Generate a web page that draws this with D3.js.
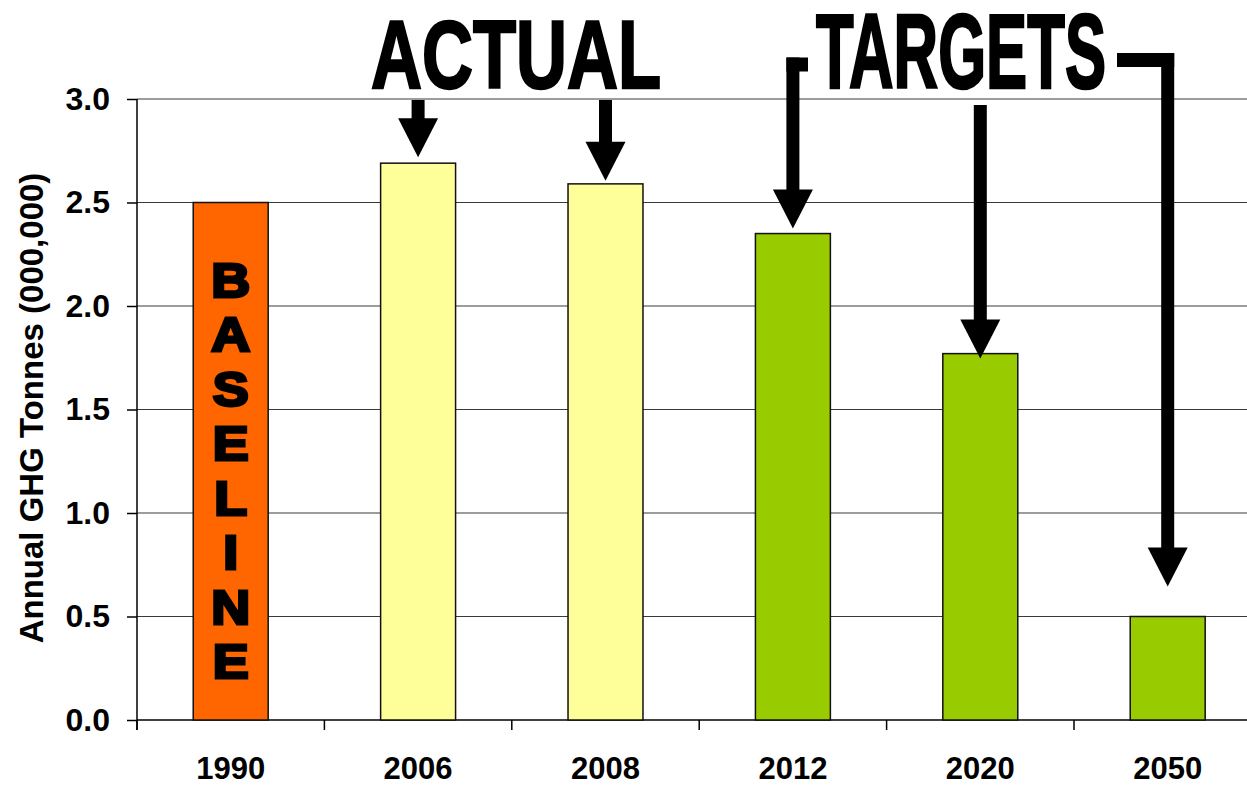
<html>
<head>
  <style>
    body { margin: 0; padding: 0; background: white; }
    svg { display: block; }
    text { font-family: "Liberation Sans", Arial, sans-serif; }
  </style>
</head>
<body>
  <div id="chart"></div>
  <script src="https://cdnjs.cloudflare.com/ajax/libs/d3/7.8.5/d3.min.js"></script>
  <script>
    // chart data
    var years = ["1990", "2006", "2008", "2012", "2020", "2050"];
    var tonnes = [2.5, 2.69, 2.59, 2.35, 1.77, 0.5];
    var kinds = ["baseline", "actual", "actual", "target", "target", "target"];
    var yTicks = [0, 0.5, 1.0, 1.5, 2.0, 2.5, 3.0];
    var yLabel = "Annual GHG Tonnes (000,000)";
    var baselineWord = "BASELINE";

    var colors = { baseline: "#ff6600", actual: "#ffff99", target: "#99cc00" };

    var width = 1247, height = 786;
    var plotLeft = 137, plotTop = 99, plotH = 621, step = 187.4;

    var svg = d3.select("#chart").append("svg")
      .attr("width", width)
      .attr("height", height);

    var x = d3.scaleBand()
      .domain(years)
      .range([plotLeft, plotLeft + step * years.length])
      .paddingInner(0.6)
      .paddingOuter(0.3);

    var y = d3.scaleLinear()
      .domain([0, 3])
      .range([plotTop + plotH, plotTop]);

    // gridlines
    svg.append("g").selectAll("line")
      .data(yTicks.filter(function(d) { return d > 0; }))
      .enter().append("line")
      .attr("x1", plotLeft).attr("x2", width)
      .attr("y1", function(d) { return y(d); })
      .attr("y2", function(d) { return y(d); })
      .attr("stroke", "#3a3a3a")
      .attr("stroke-width", 1.2);

    // y axis
    var yAxis = svg.append("g")
      .attr("transform", "translate(" + plotLeft + ",0)")
      .call(d3.axisLeft(y).tickValues(yTicks).tickFormat(d3.format(".1f")).tickSize(10).tickSizeOuter(0).tickPadding(17));
    yAxis.select(".domain").attr("stroke", "#000").attr("stroke-width", 1.5)
      .attr("d", "M0," + y(3) + "V" + (y(0) + 10));
    yAxis.selectAll(".tick line").attr("stroke", "#000").attr("stroke-width", 1.5);
    yAxis.selectAll("text")
      .attr("font-size", 32)
      .attr("font-weight", "bold")
      .attr("fill", "#000");

    // x axis line + boundary ticks
    svg.append("line")
      .attr("x1", plotLeft).attr("x2", width)
      .attr("y1", y(0)).attr("y2", y(0))
      .attr("stroke", "#000").attr("stroke-width", 1.5);
    svg.append("g").selectAll("line")
      .data(years)
      .enter().append("line")
      .attr("x1", function(d) { return x(d) - x.step() * 0.3; })
      .attr("x2", function(d) { return x(d) - x.step() * 0.3; })
      .attr("y1", y(0)).attr("y2", y(0) + 10)
      .attr("stroke", "#000").attr("stroke-width", 1.5);

    var xAxis = svg.append("g")
      .attr("transform", "translate(0," + y(0) + ")")
      .call(d3.axisBottom(x).tickSize(0).tickPadding(37));
    xAxis.select(".domain").remove();
    xAxis.selectAll("text")
      .attr("font-size", 31)
      .attr("font-weight", "bold")
      .attr("fill", "#000");

    // y label
    svg.append("text")
      .attr("transform", "translate(43,408) rotate(-90)")
      .attr("text-anchor", "middle")
      .attr("font-size", 33)
      .attr("font-weight", "bold")
      .text(yLabel);

    // bars
    svg.append("g").selectAll("rect")
      .data(years)
      .enter().append("rect")
      .attr("x", function(d) { return x(d); })
      .attr("width", x.bandwidth())
      .attr("y", function(d, i) { return y(tonnes[i]); })
      .attr("height", function(d, i) { return y(0) - y(tonnes[i]); })
      .attr("fill", function(d, i) { return colors[kinds[i]]; })
      .attr("stroke", "#111")
      .attr("stroke-width", 1.5);

    // BASELINE letters down the 1990 bar
    var cx0 = x(years[0]) + x.bandwidth() / 2;
    svg.append("g").selectAll("text")
      .data(baselineWord.split(""))
      .enter().append("text")
      .attr("x", cx0)
      .attr("y", function(d, i) { return 297 + i * 54.5; })
      .attr("text-anchor", "middle")
      .attr("font-family", "'DejaVu Sans', sans-serif")
      .attr("font-weight", "bold")
      .attr("font-size", 49)
      .attr("stroke", "#000")
      .attr("stroke-width", 3)
      .attr("transform", "translate(" + cx0 + ",0) scale(1.1,1) translate(" + (-cx0) + ",0)")
      .text(function(d) { return d; });

    // big headings (narrow, tall lettering)
    function heading(txt, x0, x1, base, size, sy) {
      svg.append("text")
        .attr("transform", "translate(" + x0 + "," + base + ") scale(1," + sy + ")")
        .attr("font-size", size)
        .attr("font-weight", "bold")
        .attr("textLength", x1 - x0)
        .attr("lengthAdjust", "spacingAndGlyphs")
        .attr("stroke", "#000")
        .attr("stroke-width", 2)
        .text(txt);
    }
    heading("ACTUAL", 371, 661, 88, 80, 97 / 80);
    heading("TARGETS", 816, 1106, 88, 80, 106 / 80);

    // arrows
    var shaftW = 13, headW = 40, headL = 39;
    function arrow(cat, idx, yStart, gap, hook) {
      var cx = x(cat) + x.bandwidth() / 2;
      var tip = y(tonnes[idx]) - gap;
      var g = svg.append("g").attr("fill", "#000");
      var shaftTop = hook ? yStart - shaftW / 2 : yStart;
      if (hook) {
        g.append("rect")
          .attr("x", Math.min(cx - shaftW / 2, hook))
          .attr("y", shaftTop)
          .attr("width", Math.abs(hook - cx) + shaftW / 2)
          .attr("height", shaftW + 1);
      }
      g.append("rect")
        .attr("x", cx - shaftW / 2)
        .attr("y", shaftTop)
        .attr("width", shaftW)
        .attr("height", tip - headL - shaftTop + 1);
      g.append("polygon")
        .attr("points", [[cx - headW / 2, tip - headL], [cx + headW / 2, tip - headL], [cx, tip]].join(" "));
    }
    arrow("2006", 1, 100, 6);
    arrow("2008", 2, 100, 3);
    arrow("2012", 3, 64, 5, 808);
    arrow("2020", 4, 105, -5);
    arrow("2050", 5, 59.5, 30, 1117);
  </script>
</body>
</html>
